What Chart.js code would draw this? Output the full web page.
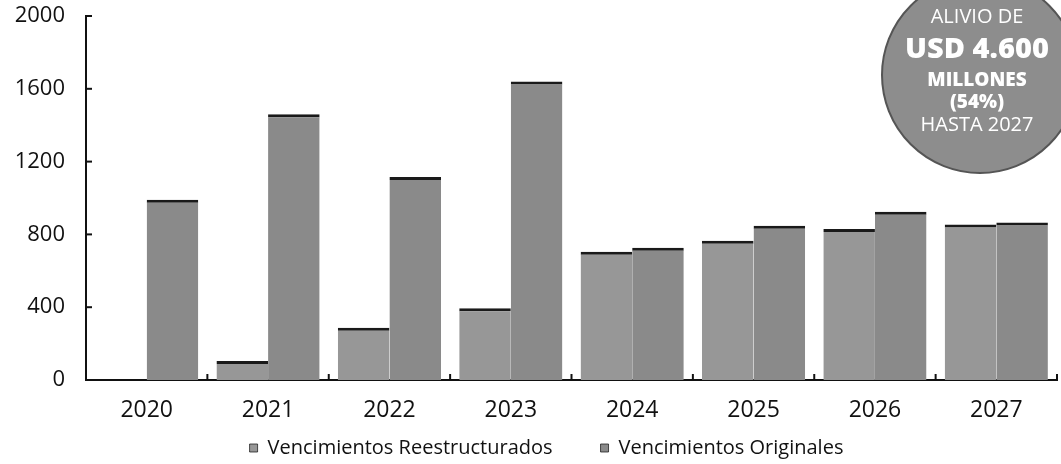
<!DOCTYPE html>
<html lang="es">
<head>
<meta charset="utf-8">
<title>Vencimientos</title>
<script src="https://cdn.jsdelivr.net/npm/chart.js@4.4.1/dist/chart.umd.min.js"></script>
<style>
  html, body { margin: 0; padding: 0; background: #fff; }
  #wrap { width: 1061px; height: 464px; position: relative; }
</style>
</head>
<body>
<div id="wrap"><canvas id="vencChart"></canvas></div>
<script>
// Data (USD millones)
const years = ['2020', '2021', '2022', '2023', '2024', '2025', '2026', '2027'];
const reestructurados = [0, 105, 287, 394, 705, 765, 830, 855];
const originales = [990, 1460, 1115, 1640, 727, 848, 925, 866];
const yTicks = [0, 400, 800, 1200, 1600, 2000];
const badgeLines = ['ALIVIO DE', 'USD 4.600', 'MILLONES', '(54%)', 'HASTA 2027'];

const FONT = "'Open Sans', 'DejaVu Sans', sans-serif";
const LEGEND_PAD = 48;
const LEGEND_H = 37;

// Inward tick marks on both axes + the grey badge in the top right corner
const extrasPlugin = {
  id: 'extras',
  afterInit(chart) {
    // big horizontal gap between legend items, but keep the legend short
    const lg = chart.legend;
    const fit = lg.fit.bind(lg);
    lg.fit = function () {
      fit();
      this.height = LEGEND_H;
    };
  },
  afterLayout(chart) {
    const lg = chart.legend;
    // move the top up so text (drawn at top + padding) lands inside the box
    lg.top -= LEGEND_PAD - 11;
    // legend in the reference sits a little right of centre
    lg.left += 18;
    lg.right += 18;
  },
  afterDatasetsDraw(chart) {
    const { ctx, chartArea, scales } = chart;
    const y = scales.y, x = scales.x;
    ctx.save();
    ctx.strokeStyle = '#111';
    ctx.lineWidth = 2;
    // y ticks pointing into the plot
    yTicks.forEach(v => {
      const py = y.getPixelForValue(v);
      ctx.beginPath();
      ctx.moveTo(chartArea.left, py);
      ctx.lineTo(chartArea.left + 6, py);
      ctx.stroke();
    });
    // x ticks at category boundaries, pointing up
    const half = (x.getPixelForValue(1) - x.getPixelForValue(0)) / 2;
    years.forEach((_, i) => {
      const px = x.getPixelForValue(i) + half;
      ctx.beginPath();
      ctx.moveTo(px, chartArea.bottom);
      ctx.lineTo(px, chartArea.bottom - 6);
      ctx.stroke();
    });

    // badge
    const cx = chartArea.right - 77;
    const cy = chartArea.top + 59;
    ctx.beginPath();
    ctx.arc(cx, cy, 98, 0, Math.PI * 2);
    ctx.fillStyle = '#8d8d8d';
    ctx.fill();
    ctx.lineWidth = 2;
    ctx.strokeStyle = '#555';
    ctx.stroke();

    ctx.fillStyle = '#fff';
    ctx.textAlign = 'center';
    ctx.textBaseline = 'middle';
    const styles = [
      ['400 20px ' + FONT, 1],
      ['800 29px ' + FONT, 34],
      ['800 19px ' + FONT, 65],
      ['800 19px ' + FONT, 87],
      ['400 20px ' + FONT, 109]
    ];
    badgeLines.forEach((t, i) => {
      ctx.font = styles[i][0];
      ctx.fillText(t, cx - 3, chartArea.top + styles[i][1]);
    });
    ctx.restore();
  }
};

const ctx = document.getElementById('vencChart').getContext('2d');
new Chart(ctx, {
  type: 'bar',
  data: {
    labels: years,
    datasets: [
      {
        label: 'Vencimientos Reestructurados',
        data: reestructurados,
        backgroundColor: '#979797',
        borderColor: '#1a1a1a',
        borderWidth: { top: 3, right: 0, bottom: 0, left: 0 },
        borderSkipped: 'bottom'
      },
      {
        label: 'Vencimientos Originales',
        data: originales,
        backgroundColor: '#8a8a8a',
        borderColor: '#1a1a1a',
        borderWidth: { top: 3, right: 0, bottom: 0, left: 0 },
        borderSkipped: 'bottom'
      }
    ]
  },
  options: {
    responsive: true,
    maintainAspectRatio: false,
    animation: false,
    layout: { padding: { left: 0, right: 4, top: 0, bottom: 0 } },
    datasets: {
      bar: { barPercentage: 1, categoryPercentage: 0.85 }
    },
    scales: {
      x: {
        grid: { display: false },
        border: { display: true, color: '#111', width: 2 },
        ticks: { color: '#111', font: { family: FONT, size: 23 }, padding: 9 },
        afterFit(scale) { scale.height = 47; }
      },
      y: {
        min: 0,
        max: 2000,
        grid: { display: false },
        border: { display: true, color: '#111', width: 2 },
        ticks: {
          stepSize: 400,
          color: '#111',
          font: { family: FONT, size: 22 },
          padding: 13,
          callback: v => String(v)
        },
        afterBuildTicks(scale) { scale.ticks = yTicks.map(v => ({ value: v })); },
        afterFit(scale) {
          scale.width = 86;
          scale.paddingTop = 16;
        }
      }
    },
    plugins: {
      legend: {
        position: 'bottom',
        labels: {
          color: '#111',
          font: { family: FONT, size: 20 },
          boxWidth: 8,
          boxHeight: 8,
          padding: LEGEND_PAD
        }
      },
      tooltip: { enabled: false }
    }
  },
  plugins: [extrasPlugin]
});
</script>
</body>
</html>
